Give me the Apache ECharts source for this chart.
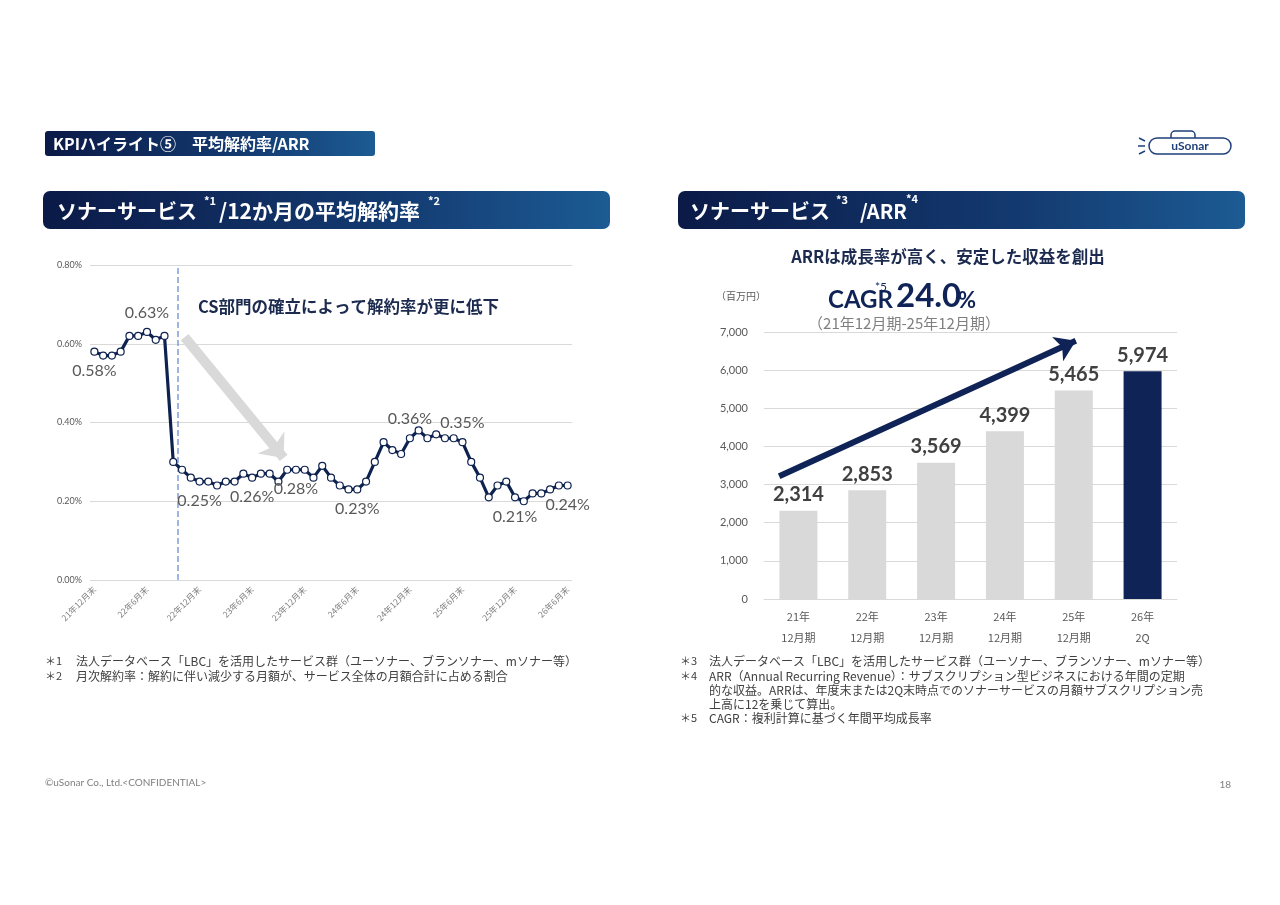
<!DOCTYPE html>
<html><head><meta charset="utf-8">
<script src="https://cdn.jsdelivr.net/npm/echarts@6/dist/echarts.min.js"></script>
<style>html,body{margin:0;padding:0;background:#fff}#c{width:1280px;height:905px}</style>
</head><body><div id="c"></div>
<script>
// ---- data ----
const months = [
 '21年12月末',
 '22年1月末','22年2月末','22年3月末','22年4月末','22年5月末','22年6月末','22年7月末','22年8月末','22年9月末','22年10月末','22年11月末','22年12月末',
 '23年1月末','23年2月末','23年3月末','23年4月末','23年5月末','23年6月末','23年7月末','23年8月末','23年9月末','23年10月末','23年11月末','23年12月末',
 '24年1月末','24年2月末','24年3月末','24年4月末','24年5月末','24年6月末','24年7月末','24年8月末','24年9月末','24年10月末','24年11月末','24年12月末',
 '25年1月末','25年2月末','25年3月末','25年4月末','25年5月末','25年6月末','25年7月末','25年8月末','25年9月末','25年10月末','25年11月末','25年12月末',
 '26年1月末','26年2月末','26年3月末','26年4月末','26年5月末','26年6月末'
];
// 12か月の平均解約率 (%)
const churnRate = [
 0.58,0.57,0.57,0.58,0.62,0.62,0.63,0.61,0.62,0.30,
 0.28,0.26,0.25,0.25,0.24,0.25,0.25,0.27,0.26,0.27,
 0.27,0.25,0.28,0.28,0.28,0.26,0.29,0.26,0.24,0.23,
 0.23,0.25,0.30,0.35,0.33,0.32,0.36,0.38,0.36,0.37,
 0.36,0.36,0.35,0.30,0.26,0.21,0.24,0.25,0.21,0.20,
 0.22,0.22,0.23,0.24,0.24
];
const churnLabelAt = {0:'bottom',6:'top',12:'bottom',18:'bottom',23:'bottom',30:'bottom',36:'top',42:'top',48:'bottom',54:'bottom'};
const churnTicks = [0,0.2,0.4,0.6,0.8];

const arrCategories = ['21年\n12月期','22年\n12月期','23年\n12月期','24年\n12月期','25年\n12月期','26年\n2Q'];
const arrValues = [2314,2853,3569,4399,5465,5974];
const arrTicks = [0,1000,2000,3000,4000,5000,6000,7000];

// ---- styles ----
const NAVY = '#0f2357';
const JP = '"Noto Sans CJK JP", sans-serif';
const LAT = 'Lato, "Noto Sans CJK JP", sans-serif';
const barGrad = {type:'linear',x:0,y:0,x2:1,y2:0,colorStops:[{offset:0,color:'#0b1a47'},{offset:0.6,color:'#133a70'},{offset:1,color:'#1c5b93'}]};

const chart = echarts.init(document.getElementById('c'));

function tx(x,y,text,style){
  return {type:'text',x:x,y:y,silent:true,style:Object.assign({text:text,fill:'#404040',fontFamily:JP,fontSize:11,verticalAlign:'middle'},style||{})};
}

const graphics = [
  // header
  {type:'rect',shape:{x:45,y:131,width:330,height:25,r:3},style:{fill:barGrad},silent:true},
  tx(53,143.5,'KPIハイライト⑤　平均解約率/ARR',{fill:'#fff',fontSize:16,fontWeight:'bold'}),
  // left title bar
  {type:'rect',shape:{x:43,y:191,width:567,height:38,r:7},style:{fill:barGrad},silent:true},
  tx(57,211,'ソナーサービス',{fill:'#fff',fontSize:20,fontWeight:'bold'}),
  tx(204,201,'*1',{fill:'#fff',fontSize:11,fontWeight:'bold'}),
  tx(219,211,'/12か月の平均解約率',{fill:'#fff',fontSize:21,fontWeight:'bold'}),
  tx(428,201,'*2',{fill:'#fff',fontSize:11,fontWeight:'bold'}),
  // right title bar
  {type:'rect',shape:{x:678,y:191,width:567,height:38,r:7},style:{fill:barGrad},silent:true},
  tx(690,211,'ソナーサービス',{fill:'#fff',fontSize:20,fontWeight:'bold'}),
  tx(836,200,'*3',{fill:'#fff',fontSize:11,fontWeight:'bold'}),
  tx(860,211,'/ARR',{fill:'#fff',fontSize:20,fontWeight:'bold'}),
  tx(906,199,'*4',{fill:'#fff',fontSize:11,fontWeight:'bold'}),
  // logo
  {type:'rect',shape:{x:1171,y:131,width:24,height:10,r:[4,4,0,0]},style:{fill:'#fff',stroke:'#1f3f7a',lineWidth:1.5},silent:true},
  {type:'rect',shape:{x:1149,y:138,width:82,height:16,r:8},style:{fill:'#fff',stroke:'#1f3f7a',lineWidth:1.5},silent:true},
  tx(1190,146.5,'uSonar',{fill:'#1f3f7a',fontSize:12,fontWeight:'bold',fontFamily:LAT,align:'center'}),
  {type:'line',shape:{x1:1139,y1:138,x2:1145,y2:141},style:{stroke:'#1f3f7a',lineWidth:1.5},silent:true},
  {type:'line',shape:{x1:1138,y1:146,x2:1145,y2:146},style:{stroke:'#1f3f7a',lineWidth:1.5},silent:true},
  {type:'line',shape:{x1:1139,y1:154,x2:1145,y2:151},style:{stroke:'#1f3f7a',lineWidth:1.5},silent:true},
  // left annotation
  tx(198,307,'CS部門の確立によって解約率が更に低下',{fill:'#1b2a4e',fontSize:16.5,fontWeight:'bold'}),
  // right headings
  tx(948,257,'ARRは成長率が高く、安定した収益を創出',{fill:'#1b2a4e',fontSize:16.5,fontWeight:'bold',align:'center'}),
  tx(716,296,'（百万円）',{fill:'#595959',fontSize:10}),
  tx(828,300,'CAGR',{fill:NAVY,fontSize:24,fontWeight:'bold',fontFamily:LAT}),
  tx(875,287,'*5',{fill:NAVY,fontSize:12,fontFamily:LAT}),
  tx(896,296,'24.0',{fill:NAVY,fontSize:33,fontWeight:'bold',fontFamily:LAT}),
  tx(958,301,'%',{fill:NAVY,fontSize:22,fontWeight:'bold',fontFamily:LAT}),
  tx(904,323,'（21年12月期-25年12月期）',{fill:'#7f7f7f',fontSize:15,align:'center'}),
  // left footnotes
  tx(45,661,'＊1',{fontSize:11}),
  tx(76,661,'法人データベース「LBC」を活用したサービス群（ユーソナー、ブランソナー、mソナー等）',{fontSize:12}),
  tx(45,676,'＊2',{fontSize:11}),
  tx(76,676,'月次解約率：解約に伴い減少する月額が、サービス全体の月額合計に占める割合',{fontSize:12}),
  // right footnotes
  tx(680,661,'＊3',{fontSize:11}),
  tx(709,661,'法人データベース「LBC」を活用したサービス群（ユーソナー、ブランソナー、mソナー等）',{fontSize:12}),
  tx(680,676,'＊4',{fontSize:11}),
  tx(709,676,'ARR（Annual Recurring Revenue）：サブスクリプション型ビジネスにおける年間の定期',{fontSize:12}),
  tx(709,690,'的な収益。ARRは、年度末または2Q末時点でのソナーサービスの月額サブスクリプション売',{fontSize:12}),
  tx(709,704,'上高に12を乗じて算出。',{fontSize:12}),
  tx(680,718,'＊5',{fontSize:11}),
  tx(709,718,'CAGR：複利計算に基づく年間平均成長率',{fontSize:12}),
  // footer
  tx(45,783,'©uSonar Co., Ltd.<CONFIDENTIAL>',{fill:'#7f7f7f',fontSize:10,fontFamily:LAT}),
  tx(1231,785,'18',{fill:'#7f7f7f',fontSize:10,fontFamily:LAT,align:'right'})
];

const churnData = churnRate.map((v,i)=> churnLabelAt[i] ? {value:v,label:{show:true,position:churnLabelAt[i]}} : v);

const option = {
  animation:false,
  textStyle:{fontFamily:JP},
  grid:[
    {left:90,top:265,width:482,height:315},
    {left:764,top:332,width:413,height:267}
  ],
  xAxis:[
    {type:'category',gridIndex:0,data:months,boundaryGap:true,axisLine:{show:false},axisTick:{show:false},
     axisLabel:{interval:5,rotate:45,fontSize:8.5,color:'#7f7f7f',margin:8,fontFamily:JP}},
    {type:'category',gridIndex:1,data:arrCategories,axisLine:{lineStyle:{color:'#d9d9d9'}},axisTick:{show:false},
     axisLabel:{fontSize:11,color:'#595959',lineHeight:21,margin:7,fontFamily:JP}},
    {type:'value',gridIndex:0,min:-0.5,max:months.length-0.5,show:false},
    {type:'value',gridIndex:1,min:-0.5,max:arrCategories.length-0.5,show:false}
  ],
  yAxis:[
    {type:'value',gridIndex:0,min:churnTicks[0],max:churnTicks[churnTicks.length-1],interval:churnTicks[1]-churnTicks[0],
     axisLine:{show:false},axisTick:{show:false},
     axisLabel:{formatter:v=>v.toFixed(2)+'%',fontSize:9,color:'#595959',margin:8,fontFamily:LAT},
     splitLine:{lineStyle:{color:'#d9d9d9',width:1}}},
    {type:'value',gridIndex:1,min:arrTicks[0],max:arrTicks[arrTicks.length-1],interval:arrTicks[1]-arrTicks[0],
     axisLine:{show:false},axisTick:{show:false},
     axisLabel:{formatter:v=>v.toLocaleString('en-US'),fontSize:11,color:'#595959',margin:16,fontFamily:LAT},
     splitLine:{lineStyle:{color:'#d9d9d9',width:1}}},
    {type:'value',gridIndex:0,min:churnTicks[0],max:churnTicks[churnTicks.length-1],show:false},
    {type:'value',gridIndex:1,min:arrTicks[0],max:arrTicks[arrTicks.length-1],show:false}
  ],
  series:[
    {type:'scatter',xAxisIndex:2,yAxisIndex:2,data:[],silent:true,z:1,
     markLine:{silent:true,symbol:['none','none'],label:{show:false},
       lineStyle:{type:'dashed',color:'#7f9fdc',width:1.5},
       data:[{xAxis:9.5}]}},
    {type:'scatter',xAxisIndex:2,yAxisIndex:2,data:[],silent:true,z:1,
     markLine:{silent:true,symbol:['none','arrow'],symbolSize:[26,20],label:{show:false},
       lineStyle:{type:'solid',color:'#d9d9d9',width:10},
       data:[[{coord:[10.3,0.617]},{coord:[21.6,0.31]}]]}},
    {type:'line',xAxisIndex:0,yAxisIndex:0,data:churnData,silent:true,z:5,
     symbol:'circle',symbolSize:7,showAllSymbol:true,
     lineStyle:{color:'#0e2250',width:3.2},
     itemStyle:{color:'#ffffff',borderColor:'#0e2250',borderWidth:1.2},
     label:{show:false,formatter:p=>p.value.toFixed(2)+'%',fontSize:16,color:'#595959',distance:7,fontFamily:LAT}},
    {type:'bar',xAxisIndex:1,yAxisIndex:1,data:arrValues,barWidth:38,silent:true,
     itemStyle:{color:p=>p.dataIndex===arrValues.length-1?NAVY:'#d9d9d9'},
     label:{show:true,position:'top',distance:6,formatter:p=>p.value.toLocaleString('en-US'),fontSize:20,fontWeight:'bold',color:'#404040',fontFamily:LAT}},
    {type:'scatter',xAxisIndex:3,yAxisIndex:3,data:[],silent:true,z:6,
     markLine:{silent:true,symbol:['none','arrow'],symbolSize:[20,20],label:{show:false},
       lineStyle:{type:'solid',color:NAVY,width:6},
       data:[[{coord:[-0.28,3220]},{coord:[4.03,6770]}]]}}
  ],
  graphic:graphics
};
chart.setOption(option);
</script></body></html>
